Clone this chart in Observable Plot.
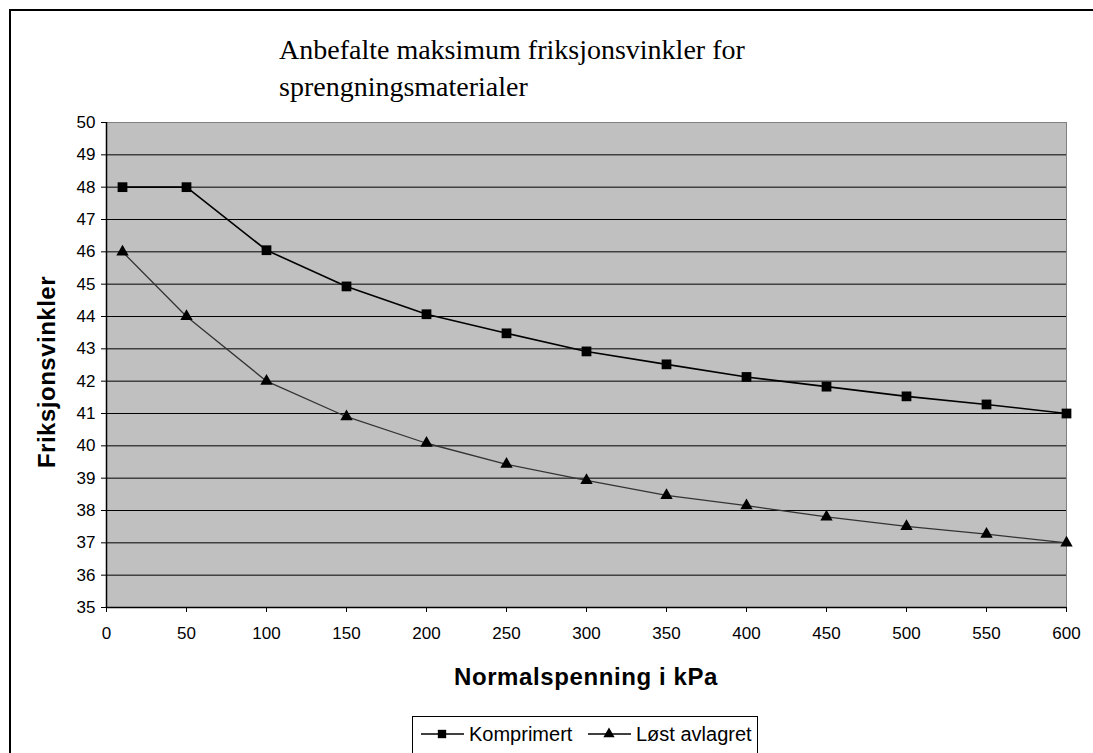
<!DOCTYPE html>
<html>
<head>
<meta charset="utf-8">
<script src="https://cdn.jsdelivr.net/npm/d3@7"></script>
<script src="https://cdn.jsdelivr.net/npm/@observablehq/plot@0.6"></script>
<style>
  html, body { margin: 0; padding: 0; background: #fff; }
  #wrap { position: relative; width: 1093px; height: 753px; overflow: hidden; background: #fff; }
  #frame { position: absolute; left: 9px; top: 9px; width: 1200px; height: 900px; border: 2px solid #000; box-sizing: border-box; }
  #chart { position: absolute; left: 0; top: 0; }
  #title { position: absolute; left: 279px; top: 31px; font-family: "Liberation Serif", "Times New Roman", serif; font-size: 28px; line-height: 37px; color: #000; white-space: nowrap; }
  #xtitle { position: absolute; left: 386px; top: 665px; width: 400px; text-align: center; font-family: "Liberation Sans", Arial, sans-serif; font-weight: bold; font-size: 24px; line-height: 24px; letter-spacing: 0.6px; color: #000; white-space: nowrap; }
  #ytitle { position: absolute; left: -103px; top: 360px; width: 300px; height: 24px; text-align: center; font-family: "Liberation Sans", Arial, sans-serif; font-weight: bold; font-size: 24px; line-height: 24px; letter-spacing: 0.5px; color: #000; white-space: nowrap; transform: rotate(-90deg); transform-origin: 150px 12px; }
  #legend { position: absolute; left: 412px; top: 716px; width: 346px; height: 60px; border: 1px solid #000; box-sizing: border-box; background: #fff; }
  #legend svg { position: absolute; left: 0; top: 0; }
</style>
</head>
<body>
<div id="wrap">
  <div id="frame"></div>
  <div id="chart"></div>
  <div id="title">Anbefalte maksimum friksjonsvinkler for<br>sprengningsmaterialer</div>
  <div id="xtitle">Normalspenning i kPa</div>
  <div id="ytitle">Friksjonsvinkler</div>
  <div id="legend"></div>
</div>
<script>
// Data
const normalspenning = [10, 50, 100, 150, 200, 250, 300, 350, 400, 450, 500, 550, 600];
const komprimert = [48, 48, 46.05, 44.93, 44.07, 43.48, 42.92, 42.52, 42.13, 41.83, 41.53, 41.28, 41.0];
const lostAvlagret = [46, 44, 42, 40.9, 40.08, 39.43, 38.93, 38.47, 38.15, 37.8, 37.51, 37.27, 37.0];
const seriesNames = ["Komprimert", "Løst avlagret"];
const xTicks = [0, 50, 100, 150, 200, 250, 300, 350, 400, 450, 500, 550, 600];
const yTicks = [35, 36, 37, 38, 39, 40, 41, 42, 43, 44, 45, 46, 47, 48, 49, 50];

const rowsK = normalspenning.map((x, i) => ({x, y: komprimert[i], s: seriesNames[0]}));
const rowsL = normalspenning.map((x, i) => ({x, y: lostAvlagret[i], s: seriesNames[1]}));

const chart = Plot.plot({
  width: 1093,
  height: 753,
  marginLeft: 106,
  marginRight: 27,
  marginTop: 122,
  marginBottom: 146,
  style: { fontFamily: "'Liberation Sans', Arial, sans-serif", fontSize: "17px", color: "#000", background: "transparent", overflow: "visible" },
  x: { domain: [0, 600] },
  y: { domain: [35, 50] },
  marks: [
    Plot.frame({ fill: "#c0c0c0", stroke: "#808080" }),
    Plot.gridY(yTicks.slice(1, -1), { stroke: "#000", strokeOpacity: 1, strokeWidth: 1 }),
    Plot.axisX({ ticks: xTicks, tickSize: 5, tickPadding: 14, label: null, tickFormat: d => String(d), fontSize: 17, stroke: "#000" }),
    Plot.axisY({ ticks: yTicks, tickSize: 5, tickPadding: 6, label: null, tickFormat: d => String(d), fontSize: 17, stroke: "#000" }),
    Plot.ruleX([0], { stroke: "#000", strokeWidth: 1.5 }),
    Plot.ruleY([35], { stroke: "#000", strokeWidth: 1.5 }),
    Plot.line(rowsL, { x: "x", y: "y", stroke: "#333", strokeWidth: 1.3 }),
    Plot.line(rowsK, { x: "x", y: "y", stroke: "#000", strokeWidth: 1.6 }),
    Plot.dot(rowsK, { x: "x", y: "y", symbol: "square", r: 5.5, fill: "#000", stroke: "none" }),
    Plot.dot(rowsL, { x: "x", y: "y", symbol: "triangle", r: 4.6, fill: "#000", stroke: "none" })
  ]
});
document.getElementById("chart").appendChild(chart);

// Legend (swatches + labels)
const lg = d3.select("#legend").append("svg").attr("width", 346).attr("height", 40)
  .style("font-family", "'Liberation Sans', Arial, sans-serif").style("font-size", "20px");
const items = [
  { name: seriesNames[0], x0: 8, sym: d3.symbolSquare, size: 70 },
  { name: seriesNames[1], x0: 175, sym: d3.symbolTriangle, size: 55 }
];
const cy = 17;
items.forEach(it => {
  const g = lg.append("g");
  g.append("line").attr("x1", it.x0).attr("x2", it.x0 + 43).attr("y1", cy).attr("y2", cy).attr("stroke", "#000").attr("stroke-width", 1.5);
  g.append("path").attr("d", d3.symbol(it.sym, it.size)()).attr("transform", `translate(${it.x0 + 21},${cy})`).attr("fill", "#000");
  g.append("text").attr("x", it.x0 + 48).attr("y", cy).attr("dy", "0.35em").text(it.name);
});
</script>
</body>
</html>
